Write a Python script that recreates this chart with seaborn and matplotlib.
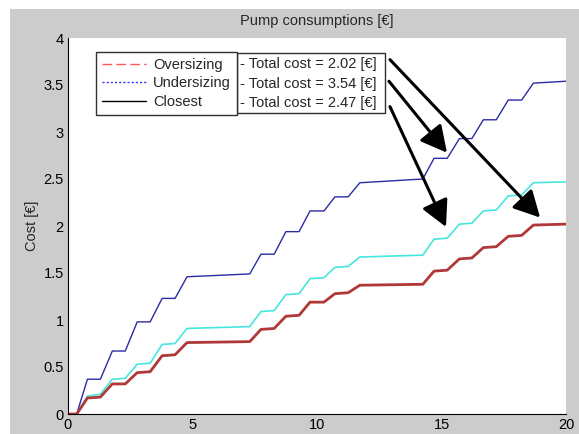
import matplotlib
matplotlib.use("Agg")
import matplotlib.pyplot as plt
from matplotlib.lines import Line2D
from matplotlib.patches import Rectangle
import seaborn as sns
import pandas as pd

# ---- data ----
time_h = [0, 0.35, 0.78, 1.3, 1.78, 2.3, 2.78, 3.3, 3.78, 4.3, 4.78, 7.3, 7.75, 8.28,
          8.75, 9.28, 9.72, 10.28, 10.72, 11.25, 11.72, 14.25, 14.7, 15.23, 15.72,
          16.22, 16.68, 17.2, 17.68, 18.22, 18.69, 20]
undersizing = [0, 0, 0.37, 0.37, 0.67, 0.67, 0.98, 0.98, 1.23, 1.23, 1.46, 1.49, 1.70, 1.70,
               1.94, 1.94, 2.16, 2.16, 2.31, 2.31, 2.46, 2.50, 2.72, 2.72, 2.93,
               2.93, 3.13, 3.13, 3.34, 3.34, 3.52, 3.54]
closest = [0, 0, 0.19, 0.21, 0.37, 0.38, 0.53, 0.54, 0.74, 0.75, 0.91, 0.93, 1.09, 1.10,
           1.27, 1.28, 1.44, 1.45, 1.56, 1.57, 1.67, 1.69, 1.86, 1.87, 2.02,
           2.03, 2.16, 2.17, 2.32, 2.33, 2.46, 2.47]
oversizing = [0, 0, 0.17, 0.18, 0.32, 0.32, 0.44, 0.45, 0.62, 0.63, 0.76, 0.77, 0.90, 0.91,
              1.04, 1.05, 1.19, 1.19, 1.28, 1.29, 1.37, 1.38, 1.52, 1.53, 1.65,
              1.66, 1.77, 1.78, 1.89, 1.90, 2.01, 2.02]

legend_names = ["Oversizing", "Undersizing", "Closest"]
total_costs = [2.02, 3.54, 2.47]
title = "Pump consumptions [€]"
ylabel = "Cost [€]"
xticks = [0, 5, 10, 15, 20]
yticks = [0, 0.5, 1, 1.5, 2, 2.5, 3, 3.5, 4]

df = pd.DataFrame({"t": time_h, "under": undersizing, "close": closest, "over": oversizing})

sns.set_style("white")
plt.rcParams["font.family"] = ["Liberation Sans", "DejaVu Sans"]

fig = plt.figure(figsize=(5.79, 4.34), dpi=100)
fig.patch.set_facecolor("white")
fig.patches.append(Rectangle((10 / 579, 0), 1, 1 - 9 / 434, transform=fig.transFigure,
                             facecolor="#cccccc", edgecolor="none", zorder=-1))
ax = fig.add_axes([68 / 579, 20 / 434, 498 / 579, 376 / 434])
ax.set_facecolor("white")

sns.lineplot(data=df, x="t", y="under", ax=ax, color="#2b2ba6", lw=1.0, estimator=None, sort=False)
sns.lineplot(data=df, x="t", y="close", ax=ax, color="#45e6de", lw=1.2, estimator=None, sort=False)
sns.lineplot(data=df, x="t", y="over", ax=ax, color="#b03838", lw=2.0, estimator=None, sort=False)

ax.set_xlim(0, 20)
ax.set_ylim(0, 4)
ax.set_xticks(xticks)
ax.set_yticks(yticks)
ax.set_xticklabels([f"{v:g}" for v in xticks])
ax.set_yticklabels([f"{v:g}" for v in yticks])
ax.tick_params(direction="in", length=5, width=0.8, labelsize=10.5, colors="black", pad=3)
for s in ["top", "right"]:
    ax.spines[s].set_visible(False)
for s in ["left", "bottom"]:
    ax.spines[s].set_color("black")
    ax.spines[s].set_linewidth(0.8)
ax.set_xlabel("")
ax.set_ylabel(ylabel, fontsize=10.5, labelpad=3)
ax.set_title(title, fontsize=10.5, pad=9)

handles = [Line2D([], [], color="#ff5a5a", lw=1.0, ls=(0, (7, 3))),
           Line2D([], [], color="#3030ff", lw=1.0, ls=(0, (1.5, 1.5))),
           Line2D([], [], color="black", lw=1.0)]
leg = ax.legend(handles, legend_names, loc="upper left", bbox_to_anchor=(0.056, 0.963),
                borderaxespad=0, fontsize=10.5, handlelength=3.05, handletextpad=0.45,
                borderpad=0.42, labelspacing=0.3, fancybox=False, framealpha=1,
                edgecolor="#303030")
leg.get_frame().set_linewidth(1.0)
leg.set_zorder(5)

ax.add_patch(Rectangle((0.339, 0.801), 0.298, 0.159, transform=ax.transAxes,
                       facecolor="white", edgecolor="#303030", lw=1.0, zorder=4))
for yy, c in zip([0.931, 0.878, 0.827], total_costs):
    ax.text(0.345, yy, f"- Total cost = {c:.2f} [€]", transform=ax.transAxes,
            fontsize=10.5, va="center", ha="left", zorder=6)

arrow_kw = dict(arrowstyle="-|>,head_length=0.8,head_width=0.42", color="black", lw=2.2,
                mutation_scale=20, shrinkA=0, shrinkB=0)
ax.annotate("", xy=(18.96, 2.09), xytext=(12.93, 3.77), arrowprops=arrow_kw, zorder=7)
ax.annotate("", xy=(15.22, 2.78), xytext=(12.89, 3.54), arrowprops=arrow_kw, zorder=7)
ax.annotate("", xy=(15.18, 1.99), xytext=(12.93, 3.27), arrowprops=arrow_kw, zorder=7)

fig.savefig("out.png", dpi=100, facecolor=fig.get_facecolor())
